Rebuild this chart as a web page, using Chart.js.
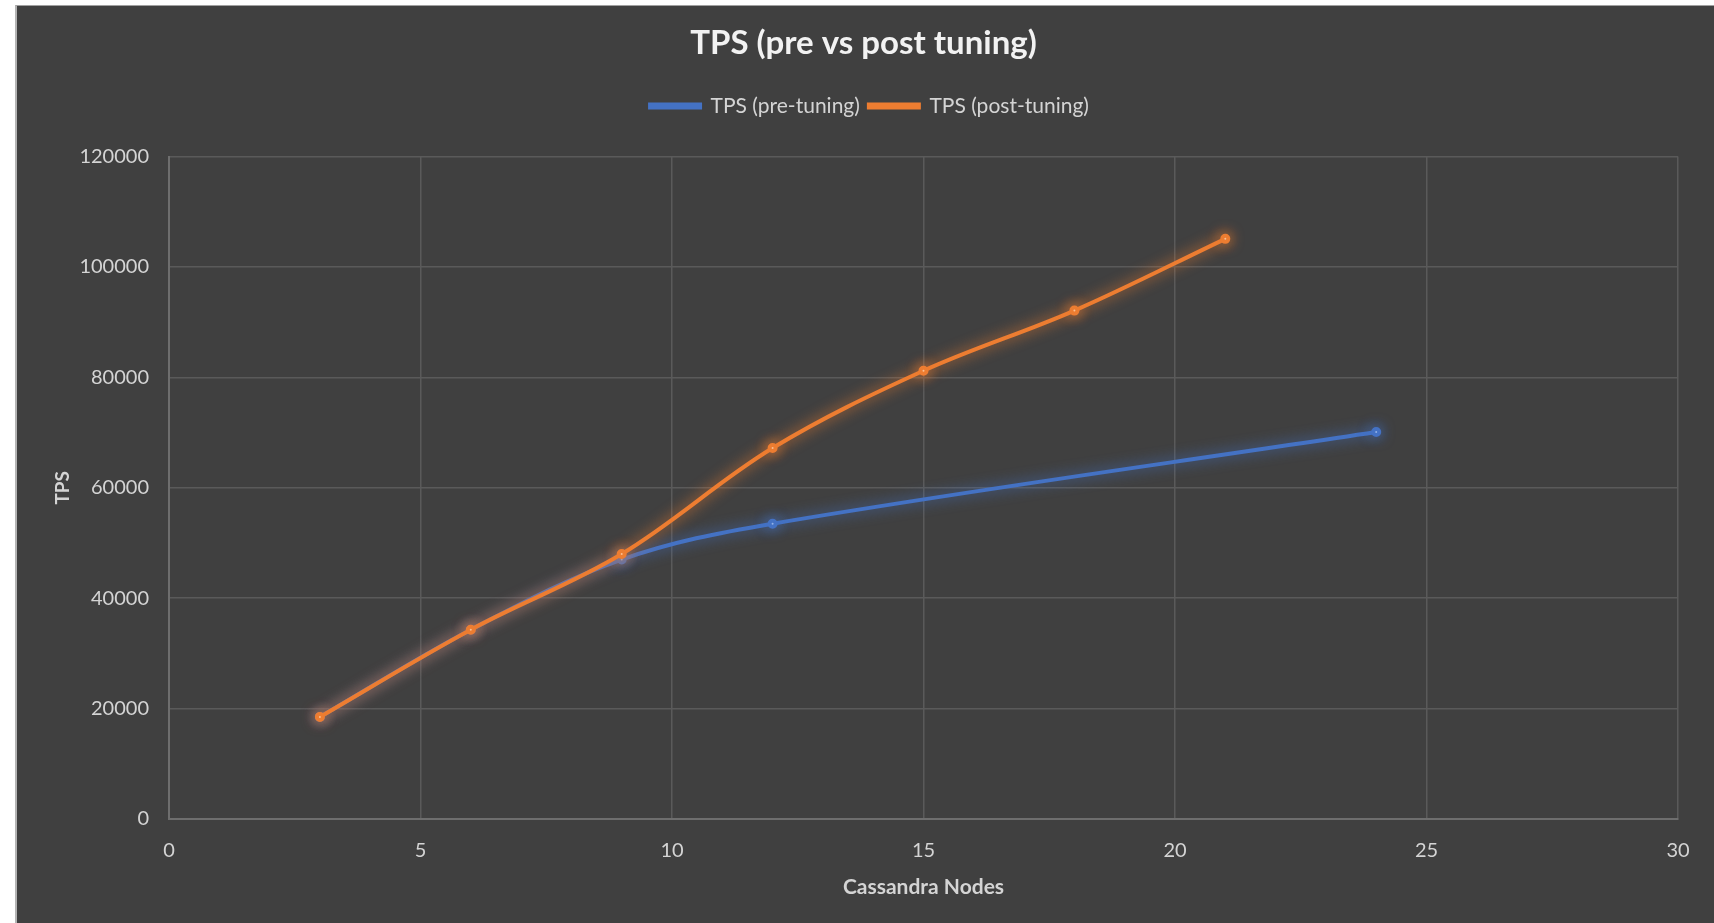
<!DOCTYPE html>
<html>
<head>
<meta charset="utf-8">
<title>TPS (pre vs post tuning)</title>
<script src="https://cdn.jsdelivr.net/npm/chart.js@4.4.1/dist/chart.umd.min.js"></script>
<style>
  html, body { margin: 0; padding: 0; background: #ffffff; width: 1714px; height: 923px; overflow: hidden; }
  #panel {
    position: absolute; left: 15px; top: 5px; width: 1697px; height: 918px;
    background: #404040; border-left: 2px solid #b4b4b4; border-top: 1px solid #a0a0a0;
  }
  #tpsChart { display: block; }
</style>
</head>
<body>
<div id="panel"><canvas id="tpsChart" width="1697" height="918"></canvas></div>
<script>
// node counts and measured throughput
const postNodes = [3, 6, 9, 12, 15, 18, 21];
const tpsPost = [18500, 34300, 48000, 67200, 81200, 92100, 105100];
const preNodes = [3, 6, 9, 12, 24];
const tpsPre = [18500, 34300, 47000, 53500, 70100];

const seriesLabels = ["TPS (pre-tuning)", "TPS (post-tuning)"];
const xTicks = [0, 5, 10, 15, 20, 25, 30];
const yTicks = [0, 20000, 40000, 60000, 80000, 100000, 120000];

const BLUE = "#4472c4";
const ORANGE = "#ed7d31";
const FONT = "Lato, 'Open Sans', sans-serif";

function toPoints(xs, ys) {
    return xs.map((x, i) => ({ x: x, y: ys[i] }));
}

// soft glow round each line, like the office chart effect
const glowPlugin = {
    id: "lineGlow",
    beforeDatasetDraw(chart, args) {
        const ctx = chart.ctx;
        ctx.save();
        ctx.shadowColor = args.meta.dataset.options.borderColor;
        ctx.shadowBlur = 14;
    },
    afterDatasetDraw(chart) {
        chart.ctx.restore();
    }
};

// extra room between the legend and the plot area,
// and title/legend centred over the whole panel rather than the padded box
const headerLayout = {
    id: "headerLayout",
    beforeInit(chart) {
        const legend = chart.legend;
        const fit = legend.fit;
        legend.fit = function () {
            fit.call(this);
            this.height += 30;
        };
    },
    afterLayout(chart) {
        chart.titleBlock.left += 16;
        chart.titleBlock.right += 16;
        chart.legend.left += 22;
        chart.legend.right += 22;
    }
};

Chart.defaults.color = "#d4d4d4";
Chart.defaults.font.family = FONT;

new Chart(document.getElementById("tpsChart"), {
    type: "line",
    data: {
        datasets: [
            {
                label: seriesLabels[0],
                data: toPoints(preNodes, tpsPre),
                borderColor: BLUE,
                backgroundColor: BLUE,
                pointBackgroundColor: "#a9c4f0",
                pointBorderColor: BLUE,
                borderWidth: 4,
                pointRadius: 3,
                tension: 0.35,
                order: 1
            },
            {
                label: seriesLabels[1],
                data: toPoints(postNodes, tpsPost),
                borderColor: ORANGE,
                backgroundColor: ORANGE,
                pointBackgroundColor: "#ffd2ad",
                pointBorderColor: ORANGE,
                borderWidth: 4,
                pointRadius: 3,
                tension: 0.35,
                order: 0
            }
        ]
    },
    options: {
        responsive: false,
        animation: false,
        layout: { padding: { left: 0, right: 36, top: 0, bottom: 0 } },
        plugins: {
            title: {
                display: true,
                text: "TPS (pre vs post tuning)",
                color: "#f2f2f2",
                font: { size: 33, weight: "bold", family: FONT },
                padding: { top: 18, bottom: 23 }
            },
            legend: {
                display: true,
                labels: {
                    color: "#d4d4d4",
                    font: { size: 21, family: FONT },
                    boxWidth: 50,
                    boxHeight: 3,
                    padding: 9,
                    sort: (a, b) => a.datasetIndex - b.datasetIndex
                }
            },
            tooltip: { enabled: false }
        },
        scales: {
            x: {
                type: "linear",
                min: xTicks[0],
                max: xTicks[xTicks.length - 1],
                afterBuildTicks: (scale) => { scale.ticks = xTicks.map(v => ({ value: v })); },
                grid: { color: "#5a5a5a", lineWidth: 1.5, drawTicks: false },
                border: { color: "#6e6e6e", width: 2 },
                ticks: { color: "#d4d4d4", font: { size: 20 }, padding: 20 },
                title: {
                    display: true,
                    text: "Cassandra Nodes",
                    color: "#d4d4d4",
                    font: { size: 21, weight: "bold" },
                    padding: { top: 4, bottom: 24 }
                },
                afterFit: (scale) => { scale.height = 105; }
            },
            y: {
                min: yTicks[0],
                max: yTicks[yTicks.length - 1],
                afterBuildTicks: (scale) => { scale.ticks = yTicks.map(v => ({ value: v })); },
                grid: { color: "#5a5a5a", lineWidth: 1.5, drawTicks: false },
                border: { color: "#6e6e6e", width: 2 },
                ticks: { color: "#d4d4d4", font: { size: 20 }, padding: 20, callback: (v) => String(v) },
                title: {
                    display: true,
                    text: "TPS",
                    color: "#d4d4d4",
                    font: { size: 19, weight: "bold" },
                    padding: { top: 34, bottom: 0 }
                },
                afterFit: (scale) => { scale.width = 152; }
            }
        }
    },
    plugins: [glowPlugin, headerLayout]
});
</script>
</body>
</html>
